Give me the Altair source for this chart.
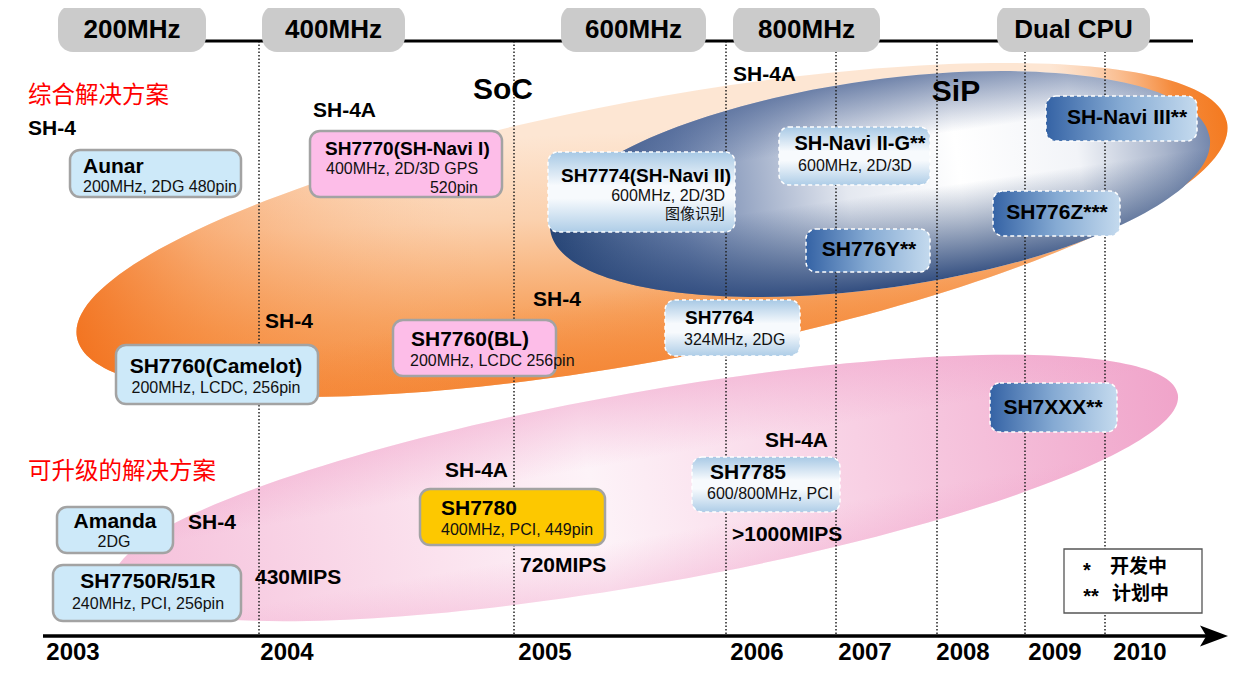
import altair as alt
import pandas as pd

# ------------------------------------------------------------------ data
freq_labels = ["200MHz", "400MHz", "600MHz", "800MHz", "Dual CPU"]
freq_left = [58, 262, 561, 733, 997]
freq_right = [206, 405, 706, 880, 1150]

years = ["2003", "2004", "2005", "2006", "2007", "2008", "2009", "2010"]
year_x = [73, 287, 545, 757, 865, 963, 1055, 1140]

divider_x = [259, 514, 726, 836, 937, 1025, 1105]

chip_names = ["Aunar", "SH7770", "SH7774", "SH-Navi II-G", "SH-Navi III", "SH776Z",
              "SH776Y", "SH7764", "SH7760C", "SH7760BL", "SH7XXX", "SH7785",
              "SH7780", "Amanda", "SH7750R"]
chip_kind = ["blue", "pink", "light", "light", "dark", "dark",
             "dark", "light", "blue", "pink", "dark", "light",
             "yellow", "blue", "blue"]
chip_left = [70, 310, 548, 779, 1046, 993, 806, 665, 116, 393, 990, 692, 420, 57, 53]
chip_right = [241, 502, 735, 930, 1197, 1120, 930, 800, 318, 556, 1117, 840, 605, 173, 241]
chip_top = [150, 131, 152, 127, 96, 191, 229, 300, 345, 320, 383, 457, 489, 507, 565]
chip_bottom = [197, 197, 232, 185, 141, 236, 272, 356, 404, 376, 432, 512, 545, 553, 621]

# texts: (text, x, y, style)
texts = [
    ("Aunar", 83, 167, "title_l"), ("200MHz, 2DG 480pin", 83, 187, "sub_l"),
    ("SH7770(SH-Navi I)", 325, 149, "title_ls"), ("400MHz, 2D/3D GPS", 326, 169, "sub_l"),
    ("520pin", 478, 188, "sub_r"),
    ("SH7774(SH-Navi II)", 561, 176, "title_ls"), ("600MHz, 2D/3D", 725, 196, "sub_r"),
    ("图像识别", 725, 214, "cjk_r"),
    ("SH-Navi II-G**", 860, 144, "title_cm"), ("600MHz, 2D/3D", 855, 166, "sub_c"),
    ("SH-Navi III**", 1127, 118, "title_c"),
    ("SH776Z***", 1057, 213, "title_c"),
    ("SH776Y**", 869, 250, "title_c"),
    ("SH7764", 685, 318, "title_ls"), ("324MHz, 2DG", 684, 340, "sub_l"),
    ("SH7760(Camelot)", 216, 367, "title_c"), ("200MHz, LCDC, 256pin", 216, 388, "sub_c"),
    ("SH7760(BL)", 411, 340, "title_l"), ("200MHz, LCDC 256pin", 410, 361, "sub_l"),
    ("SH7XXX**", 1053, 408, "title_c"),
    ("SH7785", 710, 473, "title_l"), ("600/800MHz, PCI", 707, 494, "sub_l"),
    ("SH7780", 441, 509, "title_l"), ("400MHz, PCI, 449pin", 441, 530, "sub_l"),
    ("Amanda", 115, 522, "title_c"), ("2DG", 114, 542, "sub_c"),
    ("SH7750R/51R", 148, 582, "title_c"), ("240MHz, PCI, 256pin", 148, 604, "sub_c"),
    ("SH-4", 28, 129, "label"), ("SH-4A", 313, 111, "label"), ("SH-4A", 733, 75, "label"),
    ("SH-4", 265, 322, "label"), ("SH-4", 533, 300, "label"), ("SH-4", 188, 523, "label"),
    ("SH-4A", 445, 471, "label"), ("SH-4A", 765, 441, "label"),
    ("430MIPS", 255, 578, "label"), ("720MIPS", 520, 566, "label"),
    (">1000MIPS", 732, 535, "label"),
    ("SoC", 503, 90, "big"), ("SiP", 956, 92, "big"),
    ("综合解决方案", 28, 96, "red"), ("可升级的解决方案", 28, 472, "red"),
    ("*", 1087, 571, "star"), ("开发中", 1110, 567, "legend"),
    ("**", 1091, 597, "star"), ("计划中", 1112, 594, "legend"),
]

LAT = "Liberation Sans"
CJK = "Noto Sans CJK SC"
text_styles = {
    "title_l": dict(align="left", fontSize=21, fontWeight="bold", font=LAT, color="#000"),
    "title_ls": dict(align="left", fontSize=19, fontWeight="bold", font=LAT, color="#000"),
    "title_c": dict(align="center", fontSize=21, fontWeight="bold", font=LAT, color="#000"),
    "title_cm": dict(align="center", fontSize=20, fontWeight="bold", font=LAT, color="#000"),
    "sub_l": dict(align="left", fontSize=16, fontWeight="normal", font=LAT, color="#111"),
    "sub_c": dict(align="center", fontSize=16, fontWeight="normal", font=LAT, color="#111"),
    "sub_r": dict(align="right", fontSize=16, fontWeight="normal", font=LAT, color="#111"),
    "cjk_r": dict(align="right", fontSize=15, fontWeight="normal", font=CJK, color="#111"),
    "label": dict(align="left", fontSize=21, fontWeight="bold", font=LAT, color="#000"),
    "big": dict(align="center", fontSize=30, fontWeight="bold", font=LAT, color="#000"),
    "red": dict(align="left", fontSize=23.5, fontWeight="normal", font=CJK, color="#ff0000"),
    "star": dict(align="center", fontSize=20, fontWeight="bold", font=LAT, color="#000"),
    "legend": dict(align="left", fontSize=19, fontWeight="bold", font=CJK, color="#000"),
    "pill": dict(align="center", fontSize=26, fontWeight="bold", font=LAT, color="#000"),
    "year": dict(align="center", fontSize=24, fontWeight="bold", font=LAT, color="#000"),
}

# ------------------------------------------------------------------ scales
xs = alt.Scale(domain=[8, 1231], nice=False, zero=False)
ys = alt.Scale(domain=[8, 666], nice=False, zero=False, reverse=True)


def XY():
    return dict(x=alt.X("x:Q", scale=xs, axis=None), y=alt.Y("y:Q", scale=ys, axis=None))


def grad(stops, x1, y1, x2, y2):
    return alt.LinearGradient(
        gradient="linear",
        stops=[alt.GradientStop(offset=o, color=c) for o, c in stops],
        x1=x1, y1=y1, x2=x2, y2=y2,
    )


def ellipse(cx, cy, a, b, angle, fill):
    q = b / a
    k = 0.5523
    p = (f"M-1,0 C-1,{-k*q:.4f} {-k:.4f},{-q:.4f} 0,{-q:.4f} "
         f"C{k:.4f},{-q:.4f} 1,{-k*q:.4f} 1,0 "
         f"C1,{k*q:.4f} {k:.4f},{q:.4f} 0,{q:.4f} "
         f"C{-k:.4f},{q:.4f} -1,{k*q:.4f} -1,0 Z")
    df = pd.DataFrame({"x": [cx], "y": [cy]})
    return alt.Chart(df).mark_point(
        shape=p, filled=True, fill=fill, size=(2 * a) ** 2,
        angle=angle % 360, opacity=1, strokeWidth=0,
    ).encode(**XY())


layers = []

# ---- ellipses
OR = (652, 230, 585, 130, -10.6)
layers.append(ellipse(*OR, grad([(0, "#f37a22"), (0.35, "#f7a25e"), (0.7, "#fbd1ae"), (1, "#fde6d3")],
                                0.05, 0.9, 0.55, 0.15)))
layers.append(ellipse(*OR, grad([(0, "rgba(242,112,28,0.9)"), (0.12, "rgba(245,130,50,0.45)"),
                                 (0.35, "rgba(250,180,130,0)"), (0.86, "rgba(250,180,130,0)"),
                                 (0.96, "rgba(244,122,32,0.85)"), (1, "rgba(244,122,32,1)")],
                                0, 0.5, 1, 0.5)))
layers.append(ellipse(*OR, grad([(0, "rgba(245,135,55,0)"), (0.7, "rgba(245,135,55,0)"),
                                 (1, "rgba(245,135,55,0.55)")], 0.5, 0, 0.5, 1)))
PK = (646, 488, 540, 96, -10)
layers.append(ellipse(*PK, grad([(0, "#f5bfda"), (0.3, "#fbe2ee"), (0.45, "#fdf3f8"),
                                 (0.7, "#f8d0e4"), (1, "#f0a4ca")], 0, 0.5, 1, 0.5)))
layers.append(ellipse(*PK, grad([(0, "rgba(238,150,195,0.45)"), (0.35, "rgba(238,150,195,0)"),
                                 (0.75, "rgba(238,150,195,0)"), (1, "rgba(238,150,195,0.3)")],
                                0.5, 0, 0.5, 1)))
BL = (880, 184, 333, 104, -8)
layers.append(ellipse(*BL, grad([(0, "#284677"), (0.2, "#6a80aa"), (0.45, "#e4e8f0"),
                                 (0.62, "#ffffff"), (0.8, "#f2f4f8"), (0.93, "#a9b5cc"), (1, "#7588ad")],
                                0, 0.5, 1, 0.5)))
layers.append(ellipse(*BL, grad([(0, "rgba(70,95,145,0.75)"), (0.3, "rgba(70,95,145,0)"),
                                 (0.55, "rgba(30,60,110,0)"), (1, "rgba(30,60,115,0.9)")],
                                0.5, 0, 0.5, 1)))

# ---- dotted dividers
div_df = pd.DataFrame({"x": divider_x, "y": [41] * len(divider_x), "y2": [636] * len(divider_x)})
layers.append(alt.Chart(div_df).mark_rule(strokeDash=[1.5, 2], color="#222", strokeWidth=1.5).encode(
    x=alt.X("x:Q", scale=xs, axis=None), y=alt.Y("y:Q", scale=ys, axis=None), y2="y2:Q"))

# ---- top line & pills
top_df = pd.DataFrame({"x": [140], "x2": [1193], "y": [41]})
layers.append(alt.Chart(top_df).mark_rule(color="#000", strokeWidth=3).encode(
    x=alt.X("x:Q", scale=xs, axis=None), x2="x2:Q", y=alt.Y("y:Q", scale=ys, axis=None)))
pill_df = pd.DataFrame({"label": freq_labels, "x": freq_left, "x2": freq_right,
                        "y": [5] * 5, "y2": [52] * 5,
                        "cx": [(a + b) / 2 for a, b in zip(freq_left, freq_right)]})
layers.append(alt.Chart(pill_df).mark_rect(fill="#cbcbcb", cornerRadius=15).encode(
    x=alt.X("x:Q", scale=xs, axis=None), x2="x2:Q",
    y=alt.Y("y:Q", scale=ys, axis=None), y2="y2:Q"))
layers.append(alt.Chart(pill_df.assign(yy=30)).mark_text(baseline="middle", **text_styles["pill"]).encode(
    x=alt.X("cx:Q", scale=xs, axis=None), y=alt.Y("yy:Q", scale=ys, axis=None), text="label:N"))

# ---- bottom axis
ax_df = pd.DataFrame({"x": [43], "x2": [1208], "y": [636]})
layers.append(alt.Chart(ax_df).mark_rule(color="#000", strokeWidth=3.5).encode(
    x=alt.X("x:Q", scale=xs, axis=None), x2="x2:Q", y=alt.Y("y:Q", scale=ys, axis=None)))
arrow_df = pd.DataFrame({"x": [1214], "y": [636]})
layers.append(alt.Chart(arrow_df).mark_point(
    shape="M-1,-0.75 L1,0 L-1,0.75 L-0.55,0 Z", filled=True, fill="#000", opacity=1,
    size=28 * 28, strokeWidth=0).encode(**XY()))
year_df = pd.DataFrame({"t": years, "x": year_x, "y": [653] * len(years)})
layers.append(alt.Chart(year_df).mark_text(baseline="middle", **text_styles["year"]).encode(
    **XY(), text="t:N"))

# ---- chips
chip_df = pd.DataFrame({"name": chip_names, "kind": chip_kind, "x": chip_left, "x2": chip_right,
                        "y": chip_top, "y2": chip_bottom})
chip_fill = {
    "blue": dict(fill="#cde9f9", stroke="#a3a3a3", strokeWidth=2.5),
    "pink": dict(fill="#fdbde8", stroke="#a3a3a3", strokeWidth=2.5),
    "yellow": dict(fill="#fdc800", stroke="#a3a3a3", strokeWidth=2.5),
    "light": dict(fill=grad([(0, "#a8c9e5"), (0.42, "#f7fafd"), (0.58, "#f7fafd"), (1, "#aecde7")],
                            0.5, 0, 0.5, 1),
                  stroke="#ffffff", strokeWidth=1.5, strokeDash=[4, 3]),
    "dark": dict(fill=grad([(0, "#3563a5"), (0.5, "#85aad3"), (1, "#c4daee")], 0, 0.5, 1, 0.5),
                 stroke="#ffffff", strokeWidth=1.5, strokeDash=[4, 3]),
}
for kind, props in chip_fill.items():
    sub = chip_df[chip_df.kind == kind]
    layers.append(alt.Chart(sub).mark_rect(cornerRadius=10, **props).encode(
        x=alt.X("x:Q", scale=xs, axis=None), x2="x2:Q",
        y=alt.Y("y:Q", scale=ys, axis=None), y2="y2:Q"))

# ---- legend box
leg_df = pd.DataFrame({"x": [1064], "x2": [1202], "y": [549], "y2": [613]})
layers.append(alt.Chart(leg_df).mark_rect(fill="#ffffff", stroke="#555", strokeWidth=1.3).encode(
    x=alt.X("x:Q", scale=xs, axis=None), x2="x2:Q",
    y=alt.Y("y:Q", scale=ys, axis=None), y2="y2:Q"))

# ---- texts
text_df = pd.DataFrame(texts, columns=["t", "x", "y", "style"])
for st, props in text_styles.items():
    sub = text_df[text_df["style"] == st]
    if len(sub) == 0:
        continue
    layers.append(alt.Chart(sub).mark_text(baseline="middle", **props).encode(**XY(), text="t:N"))

chart = alt.layer(*layers).properties(
    width=1223, height=658, padding=0,
    autosize=alt.AutoSizeParams(type="none"),
    background="#ffffff",
).configure_view(stroke=None)

chart.save("out.html", embed_options={"renderer": "svg", "actions": False})
